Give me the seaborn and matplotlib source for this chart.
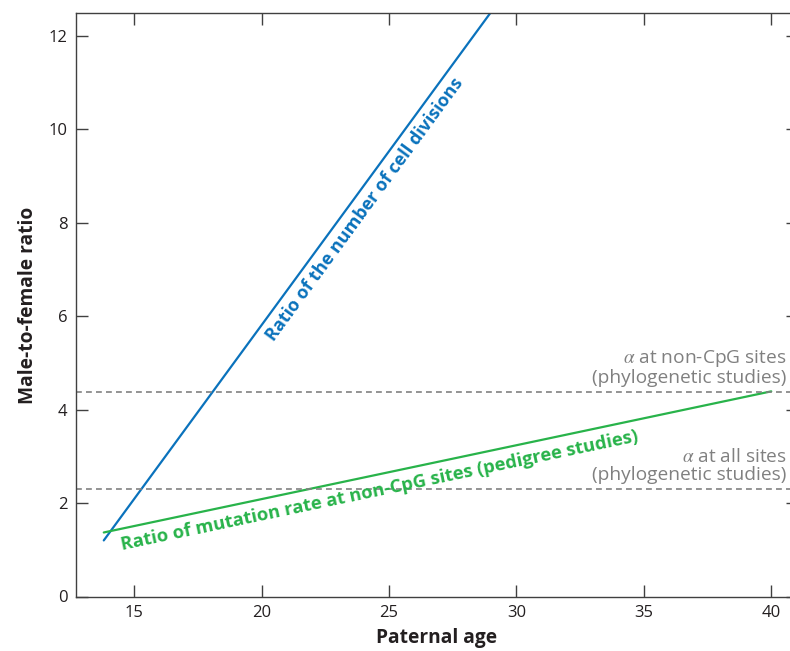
import numpy as np
import pandas as pd
import seaborn as sns
import matplotlib
matplotlib.use("Agg")
import matplotlib.pyplot as plt

# ---- data ----
age_cells = [13.8, 30.0]
ratio_cells = [1.2, 13.25]
age_mut = [13.8, 40.0]
ratio_mut = [1.37, 4.39]
alpha_noncpg = 4.37
alpha_all = 2.31
xticks = [15, 20, 25, 30, 35, 40]
yticks = [0, 2, 4, 6, 8, 10, 12]

sns.set_style("ticks")
plt.rcParams['font.family'] = ['Open Sans', 'DejaVu Sans']
plt.rcParams['mathtext.fontset'] = 'stix'

BLUE = '#0a72bc'
GREEN = '#28b34a'
GRAY = '#808080'
DARK = '#231f20'

fig = plt.figure(figsize=(7.9, 6.51), dpi=100)
ax = fig.add_axes([76/790, 1-596.5/651, (798-76)/790, (596.5-13.3)/651])

df_c = pd.DataFrame({'age': age_cells, 'ratio': ratio_cells})
df_m = pd.DataFrame({'age': age_mut, 'ratio': ratio_mut})
sns.lineplot(data=df_c, x='age', y='ratio', ax=ax, color=BLUE, lw=1.6)
sns.lineplot(data=df_m, x='age', y='ratio', ax=ax, color=GREEN, lw=1.6)

ax.axhline(alpha_noncpg, color=GRAY, lw=1.2, dashes=(3.5, 2.5))
ax.axhline(alpha_all, color=GRAY, lw=1.2, dashes=(3.5, 2.5))

ax.set_xlim(12.71, 41.05)
ax.set_ylim(0, 12.48)
ax.set_xticks(xticks)
ax.set_yticks(yticks)
ax.tick_params(direction='in', length=8.5, width=1.0, color='#404040',
               labelsize=12, labelcolor=DARK, top=True, right=True, pad=6)
for s in ax.spines.values():
    s.set_color('#404040')
    s.set_linewidth(1.0)

ax.set_xlabel('Paternal age', fontsize=13.8, fontweight='bold', color=DARK, labelpad=5)
ax.set_ylabel('Male-to-female ratio', fontsize=13.8, fontweight='bold', color=DARK, labelpad=8)

ax.text(24.05, 8.29, 'Ratio of the number of cell divisions', rotation=53.8,
        rotation_mode='anchor', ha='center', va='center', color=BLUE,
        fontsize=13.0, fontweight='bold')
ax.text(24.64, 2.26, 'Ratio of mutation rate at non-CpG sites (pedigree studies)',
        rotation=11.9, rotation_mode='anchor', ha='center', va='center',
        color=GREEN, fontsize=13.2, fontweight='bold')

ax.text(40.61, alpha_noncpg + 0.12, '$\\alpha$ at non-CpG sites\n(phylogenetic studies)',
        ha='right', va='bottom', multialignment='right', color=GRAY, fontsize=13.8,
        linespacing=1.0)
ax.text(40.61, alpha_all + 0.1, '$\\alpha$ at all sites\n(phylogenetic studies)',
        ha='right', va='bottom', multialignment='right', color=GRAY, fontsize=13.8,
        linespacing=1.0)

fig.savefig('out.png', dpi=100)
